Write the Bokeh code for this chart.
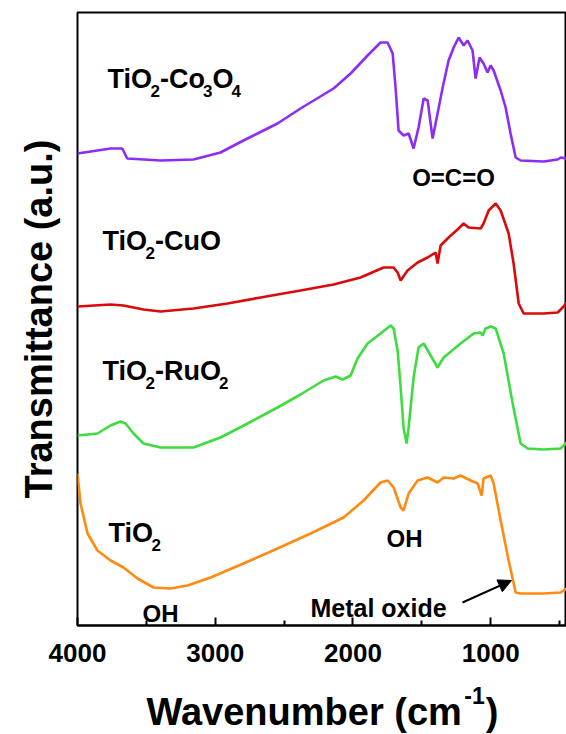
from bokeh.plotting import figure
from bokeh.layouts import column
from bokeh.models import Range1d, FixedTicker, Label, Arrow, NormalHead, Title
from bokeh.embed import file_html
from bokeh.resources import INLINE

# ---------------- data ----------------
x_major_ticks = [4000, 3000, 2000, 1000]
x_minor_ticks = [3500, 2500, 1500, 500]

wn_co3o4 = [4000, 3760, 3675, 3639, 3397, 3158, 2962, 2795, 2548, 2381, 2141, 2017, 1894, 1800, 1749, 1712,
            1691, 1669, 1633, 1596, 1560, 1524, 1487, 1458, 1422, 1386, 1349, 1306, 1269, 1233, 1197, 1168,
            1132, 1110, 1081, 1052, 1023, 1001, 979, 928, 892, 856, 819, 783, 616, 514, 492, 449]
t_co3o4 = [472, 477, 477, 467, 465, 466, 473, 485, 502, 517, 537, 552, 570, 583, 583, 572,
           538, 495, 490, 492, 477, 498, 527, 525, 487, 512, 538, 565, 578, 588, 580, 585,
           575, 547, 568, 562, 553, 560, 555, 535, 518, 492, 468, 465, 464, 466, 468, 467]

wn_cuo = [4000, 3760, 3666, 3521, 3397, 3158, 2911, 2671, 2381, 2141, 1945, 1778, 1705, 1676, 1654, 1604,
          1531, 1458, 1400, 1386, 1364, 1306, 1233, 1197, 1161, 1073, 1052, 1015, 964, 928, 870, 834,
          797, 761, 616, 514, 478, 449]
t_cuo = [319, 321, 320, 316, 314, 317, 322, 328, 335, 341, 348, 358, 358, 353, 345, 355,
         363, 368, 373, 362, 380, 388, 397, 402, 398, 397, 402, 415, 422, 415, 392, 362,
         322, 312, 312, 313, 318, 323]

wn_ruo2 = [4000, 3855, 3760, 3688, 3651, 3593, 3521, 3397, 3158, 2962, 2765, 2548, 2381, 2214, 2126, 2076,
           2017, 1967, 1894, 1800, 1727, 1705, 1676, 1654, 1633, 1611, 1596, 1560, 1524, 1487, 1436, 1386,
           1342, 1219, 1124, 1073, 1059, 1037, 1001, 964, 906, 841, 783, 732, 616, 492, 449]
t_ruo2 = [190, 192, 200, 204, 202, 192, 182, 178, 178, 188, 202, 218, 231, 245, 249, 246,
          250, 267, 282, 292, 300, 297, 275, 238, 198, 182, 198, 248, 278, 282, 270, 258,
          268, 282, 292, 293, 290, 297, 299, 297, 272, 222, 182, 177, 176, 177, 183]

wn_tio2 = [4000, 3978, 3927, 3855, 3760, 3666, 3564, 3448, 3325, 3201, 3034, 2795, 2548, 2308, 2068, 1923,
           1800, 1749, 1705, 1654, 1633, 1596, 1531, 1458, 1386, 1342, 1269, 1219, 1146, 1095, 1066, 1052,
           1001, 979, 928, 870, 819, 783, 616, 492, 449]
t_tio2 = [152, 122, 92, 75, 65, 58, 47, 38, 37, 40, 48, 62, 77, 92, 108, 125,
          143, 145, 138, 118, 115, 132, 145, 148, 143, 148, 147, 150, 145, 142, 130, 147,
          150, 142, 105, 65, 33, 32, 32, 33, 37]

# ---------------- layout constants ----------------
FONT = "Liberation Sans"
W, H = 566, 734
MAIN_H = 680          # height of the main plot canvas (x title strip below)
FRAME_L, FRAME_T, FRAME_B = 77, 12, 625
X0, X1 = 4000, 450
Y0, Y1 = 0, FRAME_B - FRAME_T

# ---------------- main plot ----------------
p = figure(width=W, height=MAIN_H, output_backend="svg", toolbar_location=None, title=None,
           x_range=Range1d(X0, X1), y_range=Range1d(Y0, Y1), y_axis_location=None,
           min_border_left=FRAME_L, min_border_right=0, min_border_top=FRAME_T,
           min_border_bottom=MAIN_H - FRAME_B)
p.grid.visible = False
p.background_fill_color = "white"
p.border_fill_color = "white"
p.outline_line_color = "black"
p.outline_line_width = 2

xa = p.xaxis[0]
xa.ticker = FixedTicker(ticks=x_major_ticks, minor_ticks=x_minor_ticks)
xa.axis_line_width = 2
xa.major_tick_line_width = 2
xa.minor_tick_line_width = 2
xa.major_tick_in = 8
xa.major_tick_out = 0
xa.minor_tick_in = 5
xa.minor_tick_out = 0
xa.major_label_text_font = FONT
xa.major_label_text_font_style = "bold"
xa.major_label_text_font_size = "26px"
xa.major_label_text_color = "black"
xa.major_label_standoff = 18

# y title as a left-side title, shifted up to match the reference
p.add_layout(Title(text="Transmittance (a.u.)", align="center", vertical_align="top",
                   offset=25, standoff=31,
                   text_font=FONT, text_font_style="bold", text_font_size="38px",
                   text_color="black"), "left")

LW = 2.6
p.line(wn_co3o4, t_co3o4, line_color="#8C2DF5", line_width=LW)
p.line(wn_cuo, t_cuo, line_color="#DA0A0A", line_width=LW)
p.line(wn_ruo2, t_ruo2, line_color="#3EDC3E", line_width=LW)
p.line(wn_tio2, t_tio2, line_color="#FF8A10", line_width=LW)

# ---------------- annotation helpers ----------------
PX_PER_UNIT = (W - FRAME_L) / (X0 - X1)

WID = {'T': 611, 'i': 278, 'O': 778, '-': 333, 'C': 722, 'o': 611, 'u': 611, 'R': 722,
       '2': 556, '3': 556, '4': 556, '1': 556, 'W': 944, 'a': 556, 'v': 556, 'e': 556,
       'n': 611, 'm': 889, 'b': 611, 'r': 389, ' ': 278, '(': 333, 'c': 556, ')': 333}


def tw(s, size):
    return sum(WID.get(ch, 600) for ch in s) * size / 1000.0


def label(fig, x, y, s, size, align="left", baseline="alphabetic"):
    fig.add_layout(Label(x=x, y=y, text=s, text_font=FONT, text_font_style="bold",
                         text_font_size=f"{size}px", text_color="black", text_align=align,
                         text_baseline=baseline))


def text(px, py, s, size, align="left"):
    # page pixel position -> main plot data coordinates
    label(p, X0 - (px - FRAME_L) / PX_PER_UNIT, FRAME_B - py, s, size, align)


def chem(px, py, parts, size=27, sub=17):
    cx = px
    for s, is_sub in parts:
        if is_sub:
            cx -= 2
            text(cx, py + 12, s, sub)
            cx += tw(s, sub)
        else:
            text(cx, py, s, size)
            cx += tw(s, size)


chem(107, 78, [("TiO", 0), ("2", 1), ("-Co", 0), ("3", 1), ("O", 0), ("4", 1)])
chem(102, 240, [("TiO", 0), ("2", 1), ("-CuO", 0)])
chem(102, 370, [("TiO", 0), ("2", 1), ("-RuO", 0), ("2", 1)])
chem(108, 532, [("TiO", 0), ("2", 1)])

text(453, 177, "O=C=O", 24, align="center")
text(404, 538, "OH", 24, align="center")
text(160, 613, "OH", 24, align="center")
text(310, 607, "Metal oxide", 25)

p.add_layout(Arrow(end=NormalHead(size=13, fill_color="black", line_color="black"),
                   x_start=X0 - (462 - FRAME_L) / PX_PER_UNIT, y_start=FRAME_B - 602,
                   x_end=X0 - (511 - FRAME_L) / PX_PER_UNIT, y_end=FRAME_B - 580,
                   line_width=2, line_color="black"))

# ---------------- x title strip (bottom), frame aligned with the main frame ----------------
SH = H - MAIN_H
bottom = figure(width=W, height=SH, output_backend="svg", toolbar_location=None, title=None,
                x_range=Range1d(FRAME_L, W), y_range=Range1d(0, SH),
                x_axis_location=None, y_axis_location=None,
                min_border_left=FRAME_L, min_border_right=0, min_border_top=0, min_border_bottom=0)
bottom.grid.visible = False
bottom.outline_line_color = None
bottom.background_fill_color = "white"
bottom.border_fill_color = "white"

BASE_MAIN, BASE_SUP = 23, 39     # baselines inside the strip (from its bottom)
tx = 146
label(bottom, tx, BASE_MAIN, "Wavenumber (cm", 38)
tx += tw("Wavenumber (cm", 38) + 1
label(bottom, tx, BASE_SUP, "-1", 23)
tx += tw("-1", 23) + 1
label(bottom, tx, BASE_MAIN, ")", 38)

layout = column(p, bottom, spacing=0)

open("out.html", "w").write(file_html(layout, INLINE))
